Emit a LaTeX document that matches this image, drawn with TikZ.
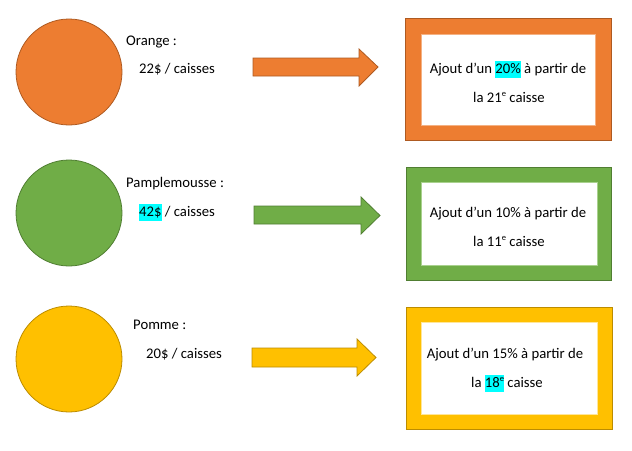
\documentclass[tikz,border=0pt]{standalone}
\usepackage{fontspec}
\setmainfont{Carlito}
\definecolor{orgfill}{HTML}{ED7D31}
\definecolor{orgline}{HTML}{AE5A21}
\definecolor{orginner}{HTML}{F4B183}
\definecolor{grnfill}{HTML}{70AD47}
\definecolor{grnline}{HTML}{507E32}
\definecolor{grninner}{HTML}{A9D18E}
\definecolor{ylwfill}{HTML}{FFC000}
\definecolor{ylwline}{HTML}{BC8C00}
\definecolor{ylwinner}{HTML}{FFE699}
\definecolor{hl}{HTML}{00FFFF}
\newcommand{\hlt}[1]{{\setlength{\fboxsep}{0pt}\colorbox{hl}{\strut #1}}}
\newcommand{\supe}{\raisebox{0.75ex}{\fontsize{8.5}{9}\selectfont e}}
\begin{document}
\begin{tikzpicture}[x=1pt,y=-1pt,
  fruit/.style={circle, minimum size=106pt, inner sep=0pt, line width=0.8pt},
  lbl/.style={anchor=base west, inner sep=0pt, font=\fontsize{14.7}{17}\selectfont},
  ctr/.style={anchor=base, inner sep=0pt, font=\fontsize{14.7}{17}\selectfont},
  frame/.style={line width=0.8pt},
  inner/.style={fill=white, line width=0.8pt},
  blockarrow/.style={line width=0.8pt, line join=miter}]
\useasboundingbox (0,0) rectangle (632,450);

% ---------- Orange ----------
\node[fruit, fill=orgfill, draw=orgline] (c1) at (69,72) {};
\node[lbl] (t1a) at (126,45) {Orange :};
\node[lbl] (t1b) at (139,73) {22\$ / caisses};
\draw[blockarrow, fill=orgfill, draw=orgline]
  (253,58) -- (359,58) -- (359,49) -- (378,67) -- (359,86) -- (359,76) -- (253,76) -- cycle;
\draw[frame, fill=orgfill, draw=orgline] (405,18) rectangle (611,140);
\draw[inner, draw=orginner] (421,34) rectangle (595,125);
\node[ctr] (b1a) at (508,73) {Ajout d’un \hlt{20\%} à partir de};
\node[ctr] (b1b) at (509,102) {la 21\supe{} caisse};

% ---------- Pamplemousse ----------
\node[fruit, fill=grnfill, draw=grnline] (c2) at (69,213) {};
\node[lbl] (t2a) at (126,187) {Pamplemousse :};
\node[lbl] (t2b) at (139,216) {\hlt{42\$} / caisses};
\draw[blockarrow, fill=grnfill, draw=grnline]
  (254,206) -- (361,206) -- (361,197) -- (380,215.5) -- (361,234) -- (361,224) -- (254,224) -- cycle;
\draw[frame, fill=grnfill, draw=grnline] (406,167) rectangle (611,280);
\draw[inner, draw=grninner] (421,182) rectangle (597,265);
\node[ctr] (b2a) at (508,217) {Ajout d’un 10\% à partir de};
\node[ctr] (b2b) at (509,246) {la 11\supe{} caisse};

% ---------- Pomme ----------
\node[fruit, fill=ylwfill, draw=ylwline] (c3) at (69,359) {};
\node[lbl] (t3a) at (133,329) {Pomme :};
\node[lbl] (t3b) at (146,358) {20\$ / caisses};
\draw[blockarrow, fill=ylwfill, draw=ylwline]
  (252,348) -- (357,348) -- (357,339) -- (376,357.5) -- (357,376) -- (357,367) -- (252,367) -- cycle;
\draw[frame, fill=ylwfill, draw=ylwline] (406,307) rectangle (612,429);
\draw[inner, draw=ylwinner] (421,322) rectangle (597,414);
\node[ctr] (b3a) at (505,358) {Ajout d’un 15\% à partir de};
\node[ctr] (b3b) at (507,387) {la \hlt{18\supe} caisse};
\end{tikzpicture}
\end{document}
